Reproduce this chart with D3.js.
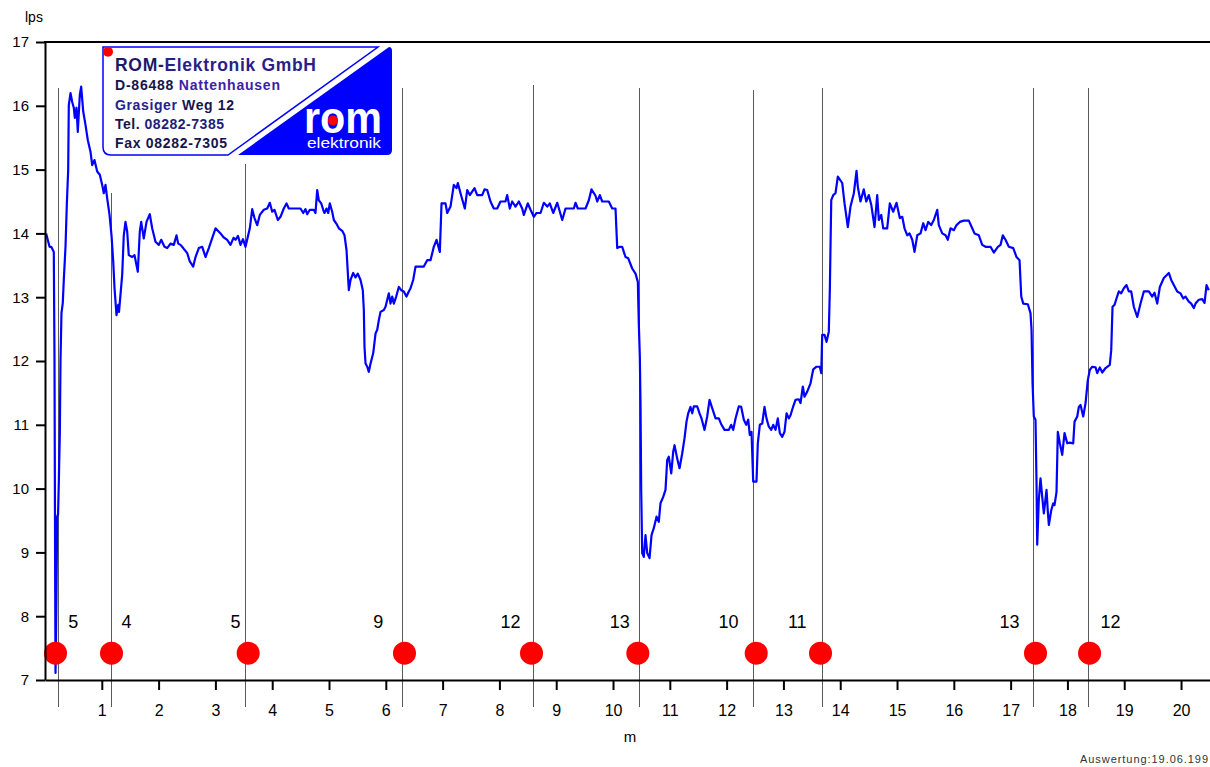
<!DOCTYPE html>
<html><head><meta charset="utf-8">
<script src="https://cdn.jsdelivr.net/npm/d3@7"></script>
<style>
body{margin:0;background:#fff}
svg{display:block}
text{font-family:"Liberation Sans",Arial,Helvetica,sans-serif}
</style></head>
<body><svg id="c" width="1210" height="767"></svg>
<script>
// ---- data ----
const yTicks = [7, 8, 9, 10, 11, 12, 13, 14, 15, 16, 17];
const xTicks = [1, 2, 3, 4, 5, 6, 7, 8, 9, 10, 11, 12, 13, 14, 15, 16, 17, 18, 19, 20];
const markerPos = [0.232, 1.171, 3.53, 6.289, 8.606, 10.472, 12.479, 13.694, 17.408, 18.377];
const markerTop = [16.28, 14.63, 15.09, 16.28, 16.33, 16.28, 16.25, 16.28, 16.28, 16.28];
const markerBottom = 6.58;
const dotPos = [0.185, 1.171, 3.577, 6.329, 8.565, 10.437, 12.521, 13.653, 17.438, 18.39];
const dotLevel = 7.42;
const counts = [5, 4, 5, 9, 12, 13, 10, 11, 13, 12];
const countPos = [0.496, 1.435, 3.354, 5.866, 8.195, 10.12, 12.033, 13.243, 16.981, 18.759];
const countLevel = 7.81;
const lpsSeries = [
[0.02,14.0],[0.08,13.79],[0.11,13.79],[0.155,13.71],[0.167,12.05],[0.176,9.5],[0.18,8.36],[0.185,7.11],[0.194,7.63],[0.215,9.56],[0.23,9.6],[0.243,10.09],[0.261,10.87],[0.273,12.02],[0.29,12.75],[0.313,12.91],[0.331,13.27],[0.361,13.79],[0.384,14.45],[0.408,14.99],[0.419,16.01],[0.449,16.2],[0.479,16.06],[0.507,15.97],[0.525,15.81],[0.555,15.97],[0.577,15.59],[0.613,16.17],[0.637,16.3],[0.673,15.91],[0.713,15.7],[0.754,15.46],[0.801,15.28],[0.831,15.07],[0.871,15.15],[0.919,14.97],[0.965,14.92],[1.007,14.76],[1.035,14.63],[1.065,14.76],[1.095,14.55],[1.136,14.29],[1.171,13.97],[1.201,13.56],[1.224,13.14],[1.259,12.72],[1.289,12.88],[1.303,12.77],[1.359,13.35],[1.387,13.97],[1.417,14.18],[1.447,14.03],[1.475,13.66],[1.535,13.63],[1.576,13.66],[1.634,13.4],[1.669,14.03],[1.694,14.18],[1.739,13.92],[1.787,14.18],[1.845,14.3],[1.887,14.08],[1.945,13.87],[2.004,13.82],[2.046,13.9],[2.104,13.79],[2.151,13.77],[2.21,13.84],[2.268,13.82],[2.315,13.97],[2.345,13.84],[2.386,13.82],[2.433,13.77],[2.504,13.69],[2.549,13.56],[2.609,13.48],[2.65,13.63],[2.708,13.77],[2.768,13.79],[2.826,13.63],[2.884,13.77],[3.002,14.08],[3.09,14.0],[3.143,13.94],[3.208,13.9],[3.266,13.82],[3.319,13.93],[3.354,13.9],[3.398,13.96],[3.442,13.82],[3.486,13.91],[3.53,13.79],
[3.606,14.08],[3.648,14.38],[3.688,14.24],[3.736,14.13],[3.782,14.29],[3.852,14.37],[3.912,14.39],[3.958,14.48],[4.0,14.34],[4.04,14.37],[4.099,14.21],[4.146,14.26],[4.204,14.39],[4.252,14.47],[4.292,14.39],[4.498,14.39],[4.546,14.32],[4.586,14.38],[4.616,14.3],[4.662,14.37],[4.732,14.37],[4.762,14.32],[4.792,14.68],[4.82,14.52],[4.863,14.47],[4.898,14.37],[4.921,14.32],[4.956,14.39],[4.986,14.32],[5.014,14.47],[5.056,14.34],[5.085,14.21],[5.132,14.15],[5.173,14.08],[5.232,14.04],[5.273,13.97],[5.308,13.74],[5.349,13.11],[5.379,13.27],[5.426,13.38],[5.467,13.31],[5.507,13.37],[5.555,13.27],[5.595,13.11],[5.613,12.8],[5.625,12.22],[5.643,11.96],[5.673,11.91],[5.701,11.83],[5.731,11.96],[5.778,12.12],[5.819,12.43],[5.849,12.49],[5.877,12.64],[5.907,12.77],[5.965,12.8],[5.995,12.85],[6.053,13.06],[6.083,12.9],[6.113,13.01],[6.141,12.9],[6.183,13.01],[6.229,13.16],[6.271,13.11],[6.317,13.09],[6.364,13.01],[6.405,13.09],[6.435,13.14],[6.482,13.27],[6.523,13.48],[6.669,13.48],[6.729,13.58],[6.787,13.58],[6.845,13.79],[6.893,13.9],[6.951,13.71],[6.981,14.47],[7.051,14.47],[7.081,14.32],[7.139,14.42],[7.197,14.76],[7.245,14.71],[7.268,14.79],[7.315,14.63],[7.391,14.39],[7.433,14.68],[7.479,14.6],[7.562,14.71],[7.609,14.6],[7.697,14.6],[7.738,14.69],[7.785,14.68],[7.843,14.5],[7.901,14.39],[7.961,14.39],[8.019,14.5],[8.107,14.5],[8.137,14.6],[8.183,14.39],[8.225,14.5],[8.283,14.42],[8.342,14.5],[8.401,14.39],[8.43,14.29],[8.5,14.47],[8.548,14.37],[8.606,14.26],[8.653,14.32],[8.724,14.32],[8.782,14.48],[8.842,14.42],[8.887,14.47],[8.947,14.32],[9.018,14.48],[9.106,14.21],[9.164,14.39],[9.31,14.39],[9.34,14.48],[9.38,14.39],[9.516,14.39],[9.574,14.52],[9.621,14.69],[9.692,14.59],[9.722,14.5],[9.768,14.6],[9.81,14.5],[9.926,14.5],[9.986,14.39],[10.044,14.39],[10.074,13.77],[10.12,13.79],[10.162,13.79],[10.19,13.71],[10.22,13.63],[10.268,13.61],[10.338,13.45],[10.396,13.37],[10.437,13.24],[10.454,12.59],[10.472,12.07],[10.484,11.34],[10.496,9.98],[10.514,8.99],[10.542,8.93],[10.572,9.27],[10.602,8.99],[10.643,8.91],[10.678,9.27],[10.718,9.38],[10.766,9.56],[10.806,9.48],[10.836,9.77],[10.884,9.87],[10.924,9.98],[10.954,10.45],[10.982,10.5],[11.025,10.24],[11.06,10.58],[11.083,10.68],[11.13,10.47],[11.171,10.32],[11.218,10.55],[11.259,10.79],[11.294,11.05],[11.324,11.18],[11.364,11.28],[11.394,11.18],[11.423,11.29],[11.482,11.29],[11.523,11.18],[11.558,11.1],[11.611,10.92],[11.658,11.13],[11.699,11.39],[11.746,11.26],[11.805,11.1],[11.863,11.1],[11.91,11.0],[11.963,10.92],[12.039,10.92],[12.081,11.0],[12.116,10.92],[12.157,11.1],[12.215,11.29],[12.257,11.28],[12.303,11.08],[12.345,11.0],[12.38,11.08],[12.408,10.84],[12.438,10.89],[12.468,10.11],[12.526,10.11],[12.549,10.71],[12.585,11.0],[12.627,11.02],[12.667,11.28],[12.702,11.1],[12.743,10.97],[12.785,10.92],[12.82,11.0],[12.861,10.92],[12.901,11.1],[12.937,10.87],[12.979,10.81],[13.019,10.89],[13.055,11.18],[13.095,11.1],[13.125,11.15],[13.173,11.29],[13.213,11.39],[13.271,11.4],[13.301,11.34],[13.342,11.6],[13.371,11.44],[13.419,11.52],[13.477,11.65],[13.525,11.87],[13.583,11.91],[13.641,11.91],[13.666,11.81],[13.683,12.41],[13.724,12.41],[13.759,12.3],[13.799,12.46],[13.817,13.11],[13.842,14.52],[13.877,14.6],[13.917,14.63],[13.958,14.89],[14.035,14.79],[14.076,14.47],[14.134,14.1],[14.181,14.42],[14.24,14.63],[14.287,14.98],[14.31,14.73],[14.357,14.5],[14.415,14.69],[14.458,14.5],[14.503,14.6],[14.546,14.45],[14.604,14.1],[14.651,14.6],[14.68,14.21],[14.722,14.29],[14.757,14.08],[14.827,14.08],[14.873,14.47],[14.933,14.34],[14.991,14.48],[15.049,14.24],[15.092,14.26],[15.132,14.08],[15.18,13.97],[15.22,14.0],[15.268,13.9],[15.308,13.71],[15.356,13.97],[15.414,14.0],[15.461,14.16],[15.502,14.05],[15.549,14.18],[15.602,14.13],[15.648,14.21],[15.708,14.37],[15.736,14.13],[15.796,14.0],[15.854,13.97],[15.894,13.9],[15.942,14.08],[16.0,14.05],[16.048,14.13],[16.106,14.18],[16.176,14.2],[16.264,14.2],[16.324,14.08],[16.364,14.0],[16.44,13.97],[16.5,13.82],[16.558,13.79],[16.646,13.79],[16.704,13.7],[16.775,13.79],[16.822,13.82],[16.863,13.97],[16.91,13.9],[16.968,13.79],[17.046,13.77],[17.104,13.63],[17.157,13.58],[17.187,13.01],[17.222,12.9],[17.303,12.89],[17.35,12.75],[17.368,12.49],[17.386,11.65],[17.408,11.13],[17.438,11.08],[17.456,10.08],[17.468,9.12],[17.496,9.82],[17.526,10.16],[17.556,9.87],[17.585,9.61],[17.632,9.98],[17.655,9.64],[17.673,9.43],[17.715,9.66],[17.75,9.77],[17.773,9.74],[17.808,9.95],[17.831,10.89],[17.866,10.71],[17.908,10.53],[17.949,10.87],[17.997,10.71],[18.042,10.72],[18.102,10.71],[18.125,11.05],[18.173,11.13],[18.201,11.28],[18.231,11.31],[18.278,11.13],[18.319,11.34],[18.359,11.7],[18.394,11.86],[18.437,11.91],[18.495,11.9],[18.525,11.81],[18.57,11.9],[18.613,11.82],[18.671,11.89],[18.746,11.94],[18.771,12.17],[18.794,12.85],[18.829,12.88],[18.864,12.98],[18.905,13.09],[18.947,13.06],[18.993,13.14],[19.04,13.19],[19.081,13.09],[19.123,13.09],[19.169,12.85],[19.229,12.69],[19.287,12.9],[19.345,13.09],[19.433,13.09],[19.493,13.01],[19.533,13.07],[19.581,12.9],[19.627,13.16],[19.697,13.3],[19.785,13.38],[19.827,13.27],[19.873,13.19],[19.933,13.09],[19.991,13.06],[20.039,12.98],[20.079,13.01],[20.137,12.93],[20.18,12.9],[20.225,12.83],[20.255,12.9],[20.313,12.96],[20.373,12.97],[20.414,12.91],[20.449,13.19],[20.489,13.11]
];

// ---- chart ----
const svg = d3.select("#c");
const x = d3.scaleLinear().domain([0, 20.51]).range([45, 1210]);
const y = d3.scaleLinear().domain([7, 17]).range([680, 42]);

// marker lines
svg.append("g").selectAll("line").data(markerPos).join("line")
  .attr("x1", d => x(d)).attr("x2", d => x(d))
  .attr("y1", (d, i) => y(markerTop[i])).attr("y2", y(markerBottom))
  .attr("stroke", "#5a5a5a").attr("stroke-width", 1).attr("shape-rendering", "crispEdges");

// curve
svg.append("path").datum(lpsSeries)
  .attr("d", d3.line().x(d => x(d[0])).y(d => y(d[1])))
  .attr("fill", "none").attr("stroke", "#0000ff").attr("stroke-width", 2.2)
  .attr("stroke-linejoin", "round");

// dots
svg.append("g").selectAll("circle").data(dotPos).join("circle")
  .attr("cx", d => x(d)).attr("cy", y(dotLevel)).attr("r", 11.5).attr("fill", "#ff0000");

// counts
svg.append("g").selectAll("text").data(counts).join("text")
  .attr("x", (d, i) => x(countPos[i])).attr("y", y(countLevel))
  .attr("text-anchor", "middle").attr("font-size", 18).attr("fill", "#000")
  .text(d => d);

// axes
const gx = svg.append("g").attr("transform", "translate(0,680)")
  .call(d3.axisBottom(x).tickValues(xTicks).tickSize(10).tickSizeOuter(0).tickPadding(14.5).tickFormat(d3.format("d")));
const gy = svg.append("g").attr("transform", "translate(45,0)")
  .call(d3.axisLeft(y).tickValues(yTicks).tickSize(9).tickSizeOuter(0).tickPadding(7).tickFormat(d3.format("d")));
[gx, gy].forEach(g => {
  g.select(".domain").attr("stroke", "#000").attr("stroke-width", 2);
  g.selectAll(".tick line").attr("stroke", "#000").attr("stroke-width", 2);
  g.selectAll(".tick text").attr("fill", "#000")
    .attr("font-family", "'Liberation Sans', Arial, sans-serif");
});
gx.selectAll(".tick text").attr("font-size", 16);
gy.selectAll(".tick text").attr("font-size", 15);
// top frame line
svg.append("line").attr("x1", 44).attr("x2", 1210).attr("y1", y(17)).attr("y2", y(17))
  .attr("stroke", "#000").attr("stroke-width", 2);

svg.append("text").attr("x", 630).attr("y", 742).attr("text-anchor", "middle").attr("font-size", 15).text("m");
svg.append("text").attr("x", 25).attr("y", 22).attr("font-size", 14).text("lps");
svg.append("text").attr("x", 1080).attr("y", 763).attr("font-size", 11).attr("fill", "#333")
  .attr("textLength", 128).attr("lengthAdjust", "spacing").text("Auswertung:19.06.199");

// ---- logo ----
const logo = svg.append("g");
logo.append("path").attr("d", "M103,47 H378 L228,155 H111 Q103,155 103,147 Z")
  .attr("fill", "#fff").attr("stroke", "#0000ff").attr("stroke-width", 1.5);
logo.append("path").attr("d", "M389,47 Q392,47 392,51 V150 Q392,155 387,155 H238 Z").attr("fill", "#0000ff");
logo.append("circle").attr("cx", 108).attr("cy", 51.7).attr("r", 5).attr("fill", "#ff0000");

function logoLine(yy, size, len, parts) {
  const t = logo.append("text").attr("x", 115).attr("y", yy).attr("font-size", size)
    .attr("font-weight", "bold").attr("textLength", len).attr("lengthAdjust", "spacing");
  parts.forEach(p => t.append("tspan").attr("fill", p[1]).text(p[0]));
}
logoLine(70.7, 17.5, 201, [["ROM-", "#1a1a66"], ["Elektronik GmbH", "#2a1f88"]]);
logoLine(90, 14, 165, [["D-86488 ", "#15154d"], ["Nattenhausen", "#3d22a6"]]);
logoLine(110, 14, 119, [["Grasiger ", "#23238c"], ["Weg 12", "#16164f"]]);
logoLine(129.3, 14, 109, [["Tel. ", "#15154d"], ["08282-7385", "#1e1e7a"]]);
logoLine(148.3, 14, 112, [["Fax 08282-7305", "#15154d"]]);

logo.append("text").attr("x", 304).attr("y", 132.7).attr("font-size", 44).attr("font-weight", "bold")
  .attr("fill", "#fff").attr("textLength", 78).attr("lengthAdjust", "spacingAndGlyphs").text("rom");
logo.append("circle").attr("cx", 333).attr("cy", 120.5).attr("r", 5).attr("fill", "#ff0000");
logo.append("text").attr("x", 307).attr("y", 148).attr("font-size", 14.5)
  .attr("fill", "#fff").attr("textLength", 74).attr("lengthAdjust", "spacingAndGlyphs").text("elektronik");
</script>
</body></html>
